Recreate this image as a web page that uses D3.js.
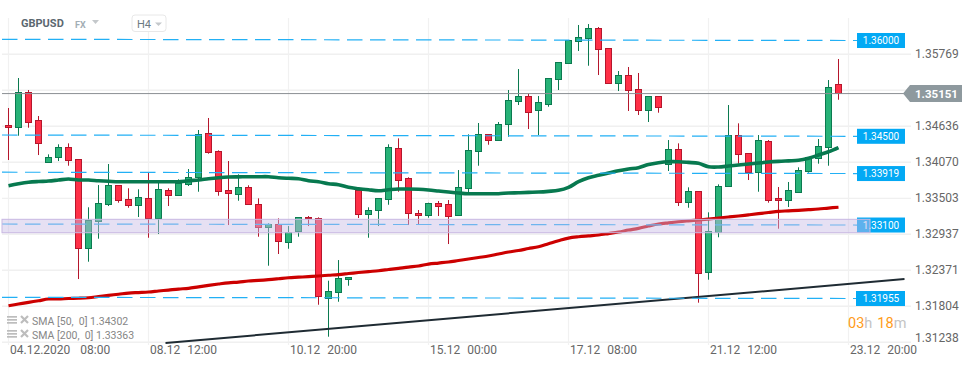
<!DOCTYPE html>
<html>
<head>
<meta charset="utf-8">
<script src="https://cdn.jsdelivr.net/npm/d3@7/dist/d3.min.js"></script>
<style>
html,body{margin:0;padding:0;background:#fff;overflow:hidden}
text{font-family:Roboto,sans-serif}
</style>
</head>
<body>
<div id="chart"></div>
<script>
const opens=[1.34664,1.34630,1.35180,1.34730,1.34079,1.34142,1.34306,1.34117,1.32717,1.33135,1.33409,1.33708,1.33487,1.33387,1.33503,1.33182,1.33629,1.33544,1.33733,1.33827,1.34526,1.34243,1.33629,1.33566,1.33676,1.33409,1.33047,1.33094,1.32827,1.32978,1.33204,1.33188,1.31935,1.32018,1.32223,1.33634,1.33261,1.33308,1.33487,1.34290,1.33818,1.33267,1.33229,1.33425,1.33414,1.33229,1.33654,1.34236,1.34510,1.34416,1.34667,1.35029,1.35108,1.34888,1.34982,1.35375,1.35627,1.35973,1.36020,1.36178,1.35863,1.35312,1.35438,1.35218,1.34888,1.35108,1.34032,1.34274,1.33434,1.33613,1.32339,1.32968,1.33686,1.34494,1.34211,1.33912,1.34400,1.33503,1.33472,1.33591,1.33922,1.34126,1.34299,1.35297];
const highs=[1.34924,1.35396,1.35207,1.34798,1.34195,1.34353,1.34368,1.34117,1.33362,1.33712,1.34043,1.33712,1.33661,1.33645,1.33906,1.33764,1.33661,1.33802,1.33964,1.34578,1.34767,1.34258,1.34090,1.33881,1.33708,1.33503,1.33110,1.33188,1.33067,1.33204,1.33225,1.33204,1.32207,1.32532,1.32260,1.33665,1.33362,1.33508,1.34353,1.34447,1.33834,1.33319,1.33434,1.33461,1.33476,1.33948,1.34510,1.34688,1.34515,1.34704,1.35207,1.35537,1.35149,1.35113,1.35391,1.35643,1.35994,1.36230,1.36245,1.36198,1.35868,1.35506,1.35569,1.35475,1.35108,1.35108,1.34420,1.34368,1.33676,1.33613,1.33283,1.33723,1.34971,1.34683,1.34211,1.34499,1.34420,1.33681,1.33760,1.33991,1.34153,1.34436,1.35364,1.35695];
const lows=[1.34106,1.34488,1.34614,1.34184,1.34079,1.34090,1.34016,1.32233,1.32506,1.32868,1.33382,1.33434,1.33355,1.33209,1.32883,1.32942,1.33382,1.33544,1.33697,1.33607,1.34205,1.33544,1.33083,1.33465,1.33409,1.32899,1.32443,1.32627,1.32710,1.32899,1.33067,1.31829,1.31326,1.31876,1.32128,1.33193,1.32883,1.33067,1.33402,1.33607,1.33083,1.33083,1.33198,1.33225,1.32784,1.33229,1.33582,1.34016,1.34346,1.34416,1.34472,1.34971,1.34593,1.34499,1.34944,1.35207,1.35627,1.35821,1.35589,1.35443,1.35312,1.35191,1.34877,1.34814,1.34704,1.34850,1.33933,1.33382,1.33355,1.31861,1.32223,1.32890,1.33686,1.34048,1.33791,1.33607,1.33434,1.33025,1.33366,1.33591,1.33906,1.34048,1.34016,1.35054];
const closes=[1.34630,1.35180,1.34708,1.34362,1.34158,1.34306,1.34095,1.32717,1.33162,1.33425,1.33708,1.33465,1.33387,1.33519,1.33182,1.33645,1.33544,1.33739,1.33843,1.34510,1.34221,1.33607,1.33576,1.33676,1.33409,1.33047,1.33094,1.32827,1.32978,1.33204,1.33182,1.31955,1.32040,1.32245,1.32260,1.33261,1.33319,1.33503,1.34306,1.33780,1.33261,1.33229,1.33425,1.33371,1.33229,1.33676,1.34258,1.34510,1.34416,1.34667,1.35045,1.35108,1.34856,1.35014,1.35391,1.35643,1.35989,1.36036,1.36178,1.35847,1.35312,1.35438,1.35202,1.34888,1.35108,1.34935,1.34274,1.33434,1.33613,1.32323,1.32984,1.33692,1.34494,1.34189,1.33906,1.34416,1.33465,1.33472,1.33629,1.33944,1.34148,1.34321,1.35250,1.35151];
const sma50=[1.33701,1.33731,1.33755,1.33767,1.33775,1.33791,1.33807,1.33791,1.33791,1.33780,1.33772,1.33764,1.33764,1.33764,1.33764,1.33764,1.33764,1.33764,1.33780,1.33791,1.33811,1.33827,1.33838,1.33841,1.33843,1.33843,1.33843,1.33827,1.33818,1.33811,1.33780,1.33764,1.33733,1.33717,1.33676,1.33654,1.33637,1.33623,1.33638,1.33650,1.33650,1.33645,1.33634,1.33618,1.33602,1.33587,1.33576,1.33576,1.33576,1.33576,1.33587,1.33591,1.33597,1.33602,1.33613,1.33629,1.33676,1.33764,1.33827,1.33865,1.33901,1.33937,1.33964,1.33985,1.34035,1.34063,1.34079,1.34079,1.34068,1.34054,1.34000,1.33996,1.34011,1.34027,1.34043,1.34059,1.34074,1.34085,1.34093,1.34101,1.34133,1.34184,1.34236,1.34302];
const sma200=[1.31813,1.31840,1.31867,1.31892,1.31919,1.31919,1.31927,1.31931,1.31939,1.31958,1.31977,1.31994,1.32013,1.32021,1.32029,1.32045,1.32060,1.32076,1.32087,1.32111,1.32134,1.32155,1.32174,1.32186,1.32202,1.32211,1.32223,1.32238,1.32254,1.32262,1.32271,1.32281,1.32293,1.32304,1.32320,1.32336,1.32351,1.32364,1.32383,1.32402,1.32422,1.32438,1.32469,1.32485,1.32501,1.32525,1.32548,1.32572,1.32595,1.32627,1.32658,1.32682,1.32713,1.32742,1.32789,1.32836,1.32878,1.32899,1.32913,1.32926,1.32949,1.32973,1.33004,1.33031,1.33067,1.33099,1.33118,1.33135,1.33149,1.33162,1.33177,1.33193,1.33209,1.33225,1.33243,1.33261,1.33280,1.33299,1.33306,1.33314,1.33324,1.33335,1.33350,1.33363];
const gridPrices=[1.35769,1.35203,1.34636,1.34070,1.33503,1.32937,1.32371,1.31804,1.31238];
const priceLabels=[1.35769,1.34636,1.34070,1.33503,1.32937,1.32371,1.31804,1.31238];
const timeIndex=[0,14,28,42,56,70,84];
const timeDates=["04.12.2020","08.12","10.12","15.12","17.12","21.12","23.12"];
const timeHours=["08:00","12:00","20:00","00:00","08:00","12:00","20:00"];
const levelNames=["1.36000","1.34500","1.33919","1.33100","1.31955"];
const levelStart=[1.36005,1.34499,1.33914,1.33099,1.31946];
const levelEnd=[1.35986,1.34479,1.33893,1.33083,1.31927];
const bandPrices=[1.33173,1.32962];
const trendIndex=[15.7,89.6];
const trendPrices=[1.31227,1.32233];
const currentPrice=1.35151;
const legendNames=["SMA [50,  0] 1.34302","SMA [200,  0] 1.33363"];

const W=974,H=368;
const svg=d3.select("#chart").append("svg").attr("width",W).attr("height",H).style("display","block");
const x=d3.scaleLinear().domain([0,83]).range([8.5,838.5]);
const y=d3.scaleLinear().domain([1.35769,1.31238]).range([54.3,342.3]);
const L=2,R=905,LR=857;
const idx=d3.range(opens.length);

// grid
svg.append("g").selectAll("line").data(gridPrices).join("line")
  .attr("x1",L).attr("x2",911).attr("y1",d=>y(d)).attr("y2",d=>y(d))
  .attr("stroke","#f0f0f0").attr("stroke-width",1.4);
svg.append("g").selectAll("line").data(timeIndex).join("line")
  .attr("x1",d=>x(d)).attr("x2",d=>x(d)).attr("y1",18).attr("y2",345)
  .attr("stroke","#f1f1f1").attr("stroke-width",1.2);

// y axis labels
const yAxis=d3.axisRight(y).tickValues(priceLabels).tickFormat(d3.format(".5f")).tickSize(0).tickPadding(0);
const gy=svg.append("g").attr("transform","translate(915,0)").call(yAxis);
gy.select(".domain").remove();
gy.selectAll("text").attr("font-size",12).attr("fill","#666").style("font-family","Roboto,sans-serif").attr("dy","0.28em").attr("y",0);
gy.selectAll(".tick").filter(d=>d===1.31238).select("text").attr("dy","-0.1em");

// x axis labels
const xAxis=d3.axisBottom(x).tickValues(timeIndex).tickSize(0).tickPadding(0).tickFormat("");
const gx=svg.append("g").attr("transform","translate(0,350)").call(xAxis);
gx.select(".domain").remove();
gx.selectAll(".tick text").each(function(d,i){
  const t=d3.select(this).attr("text-anchor","start").attr("x",1).attr("y",0).attr("dy","0.36em")
    .attr("font-size",12).attr("fill","#666").style("font-family","Roboto,sans-serif");
  t.append("tspan").text(timeDates[i]);
  t.append("tspan").attr("dx",i===0?10:7).text(timeHours[i]);
});

// candles
const G="#0b7a50",GF="#27b277",RD="#b5162c",RF="#ff3047";
const c=svg.append("g").selectAll("g").data(idx).join("g");
c.append("line").attr("x1",i=>x(i)).attr("x2",i=>x(i))
  .attr("y1",i=>y(highs[i])).attr("y2",i=>y(lows[i]))
  .attr("stroke",i=>closes[i]>=opens[i]?G:RD).attr("stroke-width",1);
c.append("rect").attr("x",i=>x(i)-3).attr("width",6)
  .attr("y",i=>Math.round(y(Math.max(opens[i],closes[i])))+.5)
  .attr("height",i=>Math.max(1,Math.round(Math.abs(y(opens[i])-y(closes[i])))))
  .attr("fill",i=>closes[i]>=opens[i]?GF:RF)
  .attr("stroke",i=>closes[i]>=opens[i]?G:RD).attr("stroke-width",1);

// trend
svg.append("line").attr("x1",x(trendIndex[0])).attr("x2",x(trendIndex[1]))
  .attr("y1",y(trendPrices[0])).attr("y2",y(trendPrices[1]))
  .attr("stroke","#1f2b33").attr("stroke-width",2);

// moving averages
const path=d3.line().x((d,i)=>x(i)).y(d=>y(d)).curve(d3.curveCatmullRom);
svg.append("path").attr("d",path(sma200)).attr("fill","none").attr("stroke","#cc0000").attr("stroke-width",3.2);
svg.append("path").attr("d",path(sma50)).attr("fill","none").attr("stroke","#07794f").attr("stroke-width",3.6);

// levels
const lv=svg.append("g").selectAll("g").data(levelNames).join("g");
lv.append("line").attr("x1",L).attr("x2",LR)
  .attr("y1",(d,i)=>y(levelStart[i])).attr("y2",(d,i)=>y(levelEnd[i]))
  .attr("stroke","#22b0f5").attr("stroke-width",1.2).attr("stroke-dasharray","15.5 7.5");
lv.append("rect").attr("x",(d,i)=>i===4?856:857).attr("width",(d,i)=>i===4?49:48)
  .attr("y",(d,i)=>y(levelEnd[i])-7.5).attr("height",15).attr("fill","#03a9f4");
lv.append("text").attr("x",881).attr("y",(d,i)=>y(levelEnd[i])).attr("dy","0.36em")
  .attr("text-anchor","middle").attr("font-size",10).attr("fill","#fff").text(d=>d);

// zone band
svg.append("rect").attr("x",L).attr("width",870-L)
  .attr("y",y(bandPrices[0])).attr("height",y(bandPrices[1])-y(bandPrices[0]))
  .attr("fill","rgba(200,188,229,0.46)").attr("stroke","#c8b8e2").attr("stroke-width",1);

// current price
svg.append("line").attr("x1",L).attr("x2",905).attr("y1",y(currentPrice)).attr("y2",y(currentPrice))
  .attr("stroke","#8a8f93").attr("stroke-width",1);
const cy=y(currentPrice);
svg.append("polygon").attr("points",[[903,cy],[910,cy-8.5],[962,cy-8.5],[962,cy+8.5],[910,cy+8.5]].join(" ")).attr("fill","#8e999e");
svg.append("text").attr("x",915).attr("y",cy).attr("dy","0.36em").attr("font-size",11.5).attr("font-weight",700).attr("fill","#fff").text(d3.format(".5f")(currentPrice));

// header
svg.append("text").attr("x",21).attr("y",27).attr("font-size",11).attr("font-weight",700).attr("fill","#5c6870").text("GBPUSD");
svg.append("text").attr("x",75).attr("y",28).attr("font-size",9).attr("font-weight",700).attr("fill","#a3aeb5").text("FX");
svg.append("polygon").attr("points","92,20 99,20 95.5,24").attr("fill","#c4c8cb");
svg.append("rect").attr("x",132).attr("y",15).attr("width",34).attr("height",16.5).attr("rx",3).attr("fill","#fff").attr("stroke","#e8e8e8");
svg.append("text").attr("x",137).attr("y",27.5).attr("font-size",11).attr("fill","#6c7a82").text("H4");
svg.append("polygon").attr("points","155,22.5 162,22.5 158.5,26").attr("fill","#c4c8cb");

// legend
const lg=svg.append("g").selectAll("g").data(legendNames).join("g").attr("transform",(d,i)=>`translate(0,${i*14})`);
lg.each(function(){
  const g=d3.select(this);
  [316,319,322].forEach(v=>g.append("rect").attr("x",7).attr("y",v).attr("width",10).attr("height",1.7).attr("fill","#bdbdbd"));
  g.append("path").attr("d","M21,316L28,323M28,316L21,323").attr("stroke","#bdbdbd").attr("stroke-width",2.2).attr("fill","none");
});
lg.append("text").attr("x",32).attr("y",325).attr("font-size",10.5).attr("fill","#868686").style("white-space","pre").text(d=>d);

// countdown
const cd=svg.append("text").attr("x",848).attr("y",328).attr("font-size",14.5);
cd.append("tspan").attr("fill","#ff9c1a").text("03");
cd.append("tspan").attr("fill","#c4c4c4").text("h");
cd.append("tspan").attr("fill","#ff9c1a").attr("dx",5).text("18");
cd.append("tspan").attr("fill","#c4c4c4").text("m");
</script>
</body>
</html>
